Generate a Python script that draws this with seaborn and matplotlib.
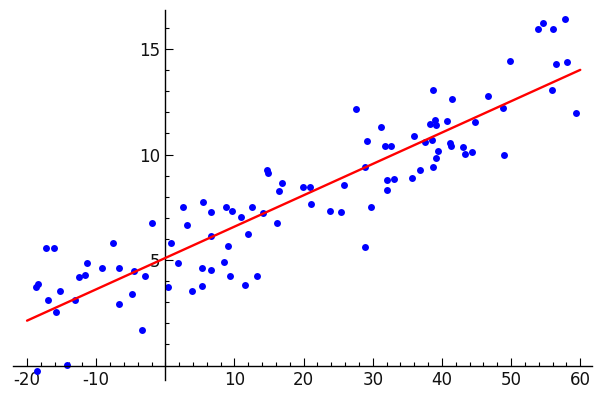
import numpy as np
import pandas as pd
import matplotlib
matplotlib.use("Agg")
import matplotlib.pyplot as plt
from matplotlib.ticker import FixedLocator
import seaborn as sns

# Sample points
x_vals = [-17.3, -16.1, -1.96, -7.5, -11.4, -9.1, -6.7, -4.5, -3.0, -12.5,
          -11.6, -18.7, -18.4, -17.0, -15.2, -13.0, -15.8, -6.7, -4.76, -3.44,
          -18.5, -14.2, 0.86, 2.6, 3.08, 5.4, 1.8, 5.36, 0.42, 3.8,
          5.3, 29.2, 31.7, 32.6, 14.7, 14.9, 16.8, 16.4, 19.96, 20.9,
          21.1, 23.8, 25.4, 25.9, 28.8, 29.7, 32.0, 33.1, 32.1, 28.8,
          6.6, 8.74, 9.6, 11.0, 12.6, 14.1, 16.1, 6.6, 11.9, 9.1,
          8.5, 6.6, 9.3, 13.3, 11.5, 27.5, 31.2, 53.9, 54.6, 56.0,
          57.8, 49.9, 56.5, 58.1, 55.95, 59.4, 46.6, 48.8, 48.9, 38.7,
          41.5, 39.0, 38.2, 39.2, 40.7, 44.8, 36.0, 37.5, 38.6, 41.1,
          41.3, 39.5, 39.1, 43.0, 43.4, 44.4, 38.7, 36.8, 35.6]
y_vals = [5.57, 5.57, 6.77, 5.79, 4.87, 4.61, 4.61, 4.48, 4.24, 4.18,
          4.27, 3.71, 3.85, 3.09, 3.53, 3.12, 2.55, 2.91, 3.40, 1.70,
          -0.26, 0.01, 5.82, 7.51, 6.64, 7.73, 4.84, 4.64, 3.71, 3.53,
          3.77, 10.64, 10.4, 10.4, 9.28, 9.15, 8.63, 8.27, 8.47, 8.47,
          7.65, 7.34, 7.29, 8.57, 9.39, 7.51, 8.81, 8.82, 8.32, 5.63,
          7.26, 7.5, 7.34, 7.05, 7.53, 7.24, 6.77, 6.15, 6.22, 5.65,
          4.92, 4.54, 4.24, 4.24, 3.80, 12.14, 11.29, 15.96, 16.23, 15.95,
          16.41, 14.42, 14.27, 14.40, 13.04, 11.95, 12.77, 12.19, 9.98, 13.06,
          12.65, 11.62, 11.45, 11.40, 11.59, 11.54, 10.86, 10.59, 10.70, 10.56,
          10.40, 10.18, 9.83, 10.34, 10.01, 10.12, 9.42, 9.28, 8.89]

x_major = [-20, -10, 10, 20, 30, 40, 50, 60]
y_major = [5, 10, 15]

df = pd.DataFrame({"x": x_vals, "y": y_vals})

# least squares fit, drawn over -20..60
slope, intercept = np.polyfit(df["x"], df["y"], 1)
line_x = np.array([-20, 60])
fit = pd.DataFrame({"x": line_x, "y": slope * line_x + intercept})

sns.set_style("white")
plt.rcParams["axes.unicode_minus"] = False
plt.rcParams["font.family"] = ["DejaVu Sans"]

fig = plt.figure(figsize=(6, 3.96), dpi=100)
ax = fig.add_axes([0.022, 0.0396, 0.9647, 0.935])

sns.lineplot(data=fit, x="x", y="y", color="red", linewidth=1.7, ax=ax, zorder=3)
sns.scatterplot(data=df, x="x", y="y", color="blue", s=25, linewidth=0, ax=ax, zorder=2)

ax.set_xlim(-22, 61.7)
ax.set_ylim(-0.7, 16.85)

# axes crossing at the origin
for side in ["top", "right"]:
    ax.spines[side].set_visible(False)
ax.spines["left"].set_position(("data", 0))
ax.spines["bottom"].set_position(("data", 0))
for side in ["left", "bottom"]:
    ax.spines[side].set_color("black")
    ax.spines[side].set_linewidth(1.0)

ax.xaxis.set_major_locator(FixedLocator(x_major))
ax.xaxis.set_minor_locator(FixedLocator(np.arange(-20, 61, 2)))
ax.yaxis.set_major_locator(FixedLocator(y_major))
ax.yaxis.set_minor_locator(FixedLocator(np.arange(1, 17, 1)))
ax.set_xticklabels([str(v) for v in x_major])
ax.set_yticklabels([str(v) for v in y_major])

ax.tick_params(which="both", direction="in", color="black", width=0.8,
               labelsize=12, labelcolor="#111111")
ax.tick_params(which="major", length=5.5, pad=4)
ax.tick_params(which="minor", length=3)
ax.tick_params(axis="x", which="both", bottom=True)
ax.tick_params(axis="y", which="both", left=True)

ax.set_xlabel("")
ax.set_ylabel("")
ax.grid(False)

fig.savefig("out.png", dpi=100)
